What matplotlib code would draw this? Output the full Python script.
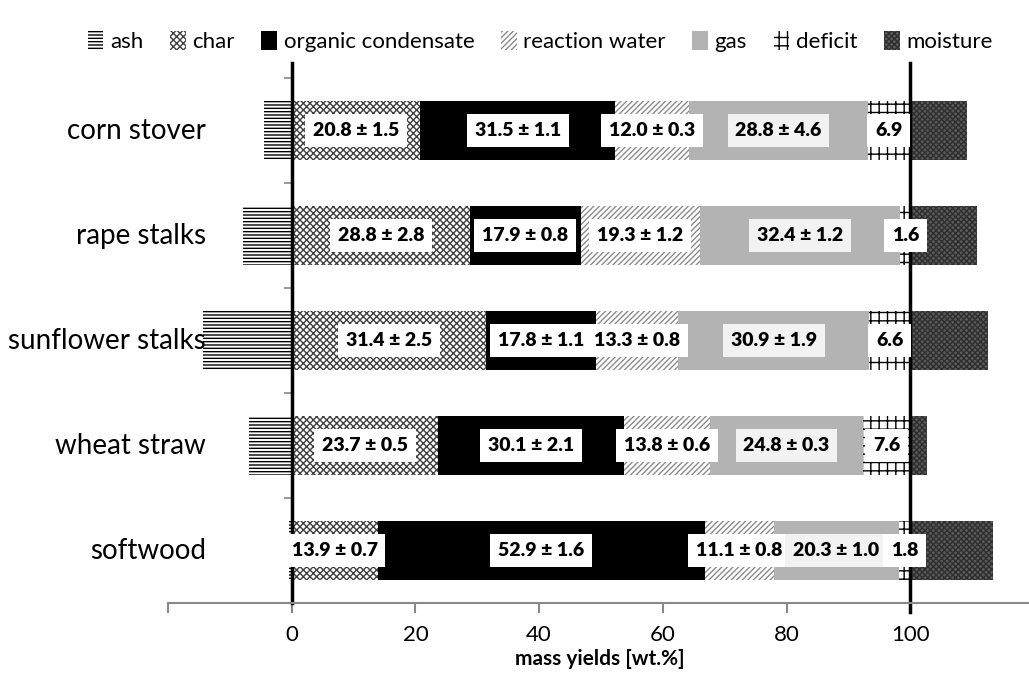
import matplotlib.pyplot as plt
from matplotlib.patches import Patch

plt.rcParams['font.family'] = ['Lato', 'DejaVu Sans']
plt.rcParams['hatch.linewidth'] = 1.0

feedstocks = ['corn stover', 'rape stalks', 'sunflower stalks', 'wheat straw', 'softwood']
ash = [4.5, 7.9, 14.4, 6.9, 0.5]
char = [20.8, 28.8, 31.4, 23.7, 13.9]
char_err = [1.5, 2.8, 2.5, 0.5, 0.7]
organic = [31.5, 17.9, 17.8, 30.1, 52.9]
organic_err = [1.1, 0.8, 1.1, 2.1, 1.6]
water = [12.0, 19.3, 13.3, 13.8, 11.1]
water_err = [0.3, 1.2, 0.8, 0.6, 0.8]
gas = [28.8, 32.4, 30.9, 24.8, 20.3]
gas_err = [4.6, 1.2, 1.9, 0.3, 1.0]
deficit = [6.9, 1.6, 6.6, 7.6, 1.8]
moisture = [9.2, 10.8, 12.6, 2.7, 13.4]

# style of each component: facecolor, hatch colour, hatch
styles = {
    'ash': ('white', 'black', '-----'),
    'char': ('white', '#404040', 'xxxxx'),
    'organic condensate': ('black', 'black', None),
    'reaction water': ('white', '#8c8c8c', '//////'),
    'gas': ('#b3b3b3', '#b3b3b3', None),
    'deficit': ('white', 'black', '++'),
    'moisture': ('#5a5a5a', '#2e2e2e', 'xxxxxx'),
}

fig = plt.figure(figsize=(10.29, 6.84), dpi=100)
ax = fig.add_axes([168 / 1029, 81 / 684, 1 - 168 / 1029, 540 / 684])

y = list(range(len(feedstocks)))
h = 0.57

def bar(vals, left, key):
    fc, ec, hatch = styles[key]
    ax.barh(y, vals, left=left, height=h, color=fc, edgecolor=ec,
            hatch=hatch, linewidth=0)

bar([-a for a in ash], [0] * 5, 'ash')
left = [0.0] * 5
segments = [
    ('char', char, char_err),
    ('organic condensate', organic, organic_err),
    ('reaction water', water, water_err),
    ('gas', gas, gas_err),
    ('deficit', deficit, None),
]
for key, vals, errs in segments:
    bar(vals, left, key)
    for i in y:
        cx = left[i] + vals[i] / 2
        if errs is None:
            s = f'{vals[i]:.1f}'
        else:
            s = f'{vals[i]:.1f} ± {errs[i]:.1f}'
        box_fc = '#f2f2f2' if key == 'gas' else 'white'
        ax.text(cx, i, s, ha='center', va='center', fontsize=14,
                fontweight='heavy',
                bbox=dict(boxstyle='square,pad=0.4', fc=box_fc, ec='none'))
    left = [l + v for l, v in zip(left, vals)]
bar(moisture, left, 'moisture')

for i, name in zip(y, feedstocks):
    ax.text(-13.9, i, name, ha='right', va='center', fontsize=20)

ax.set_xlim(-20, 119.2)
ax.set_ylim(4.5, -0.643)

ax.spines['top'].set_visible(False)
ax.spines['right'].set_visible(False)
ax.spines['left'].set_position(('data', 0))
ax.spines['left'].set_color('black')
ax.spines['left'].set_linewidth(2.5)
ax.spines['bottom'].set_color('#888888')
ax.spines['bottom'].set_linewidth(1.5)
ax.axvline(100, ymin=-0.017, ymax=1, color='black', lw=2.5, clip_on=False)

ax.set_yticks([-0.5, 0.5, 1.5, 2.5, 3.5])
ax.set_yticklabels([])
ax.tick_params(axis='y', length=6, width=1.2, color='#888888')
ax.set_xticks([-20, 0, 20, 40, 60, 80, 100])
ax.set_xticklabels(['', '0', '20', '40', '60', '80', '100'], fontsize=16)
ax.tick_params(axis='x', length=7, width=1.5, color='#888888', pad=9)
ax.set_xlabel('mass yields [wt.%]', fontsize=15, fontweight='bold')
ax.xaxis.set_label_coords((600 - 168) / (1029 - 168), -0.085)

handles = []
for key in styles:
    fc, ec, hatch = styles[key]
    handles.append(Patch(facecolor=fc, edgecolor=ec, hatch=hatch, linewidth=0))
fig.legend(handles, list(styles.keys()), loc='center', bbox_to_anchor=(0.525, 0.939),
           ncol=7, frameon=False, fontsize=16, handlelength=0.7, handleheight=0.9,
           handletextpad=0.3, columnspacing=1.2)

fig.savefig('out.png', dpi=100)
